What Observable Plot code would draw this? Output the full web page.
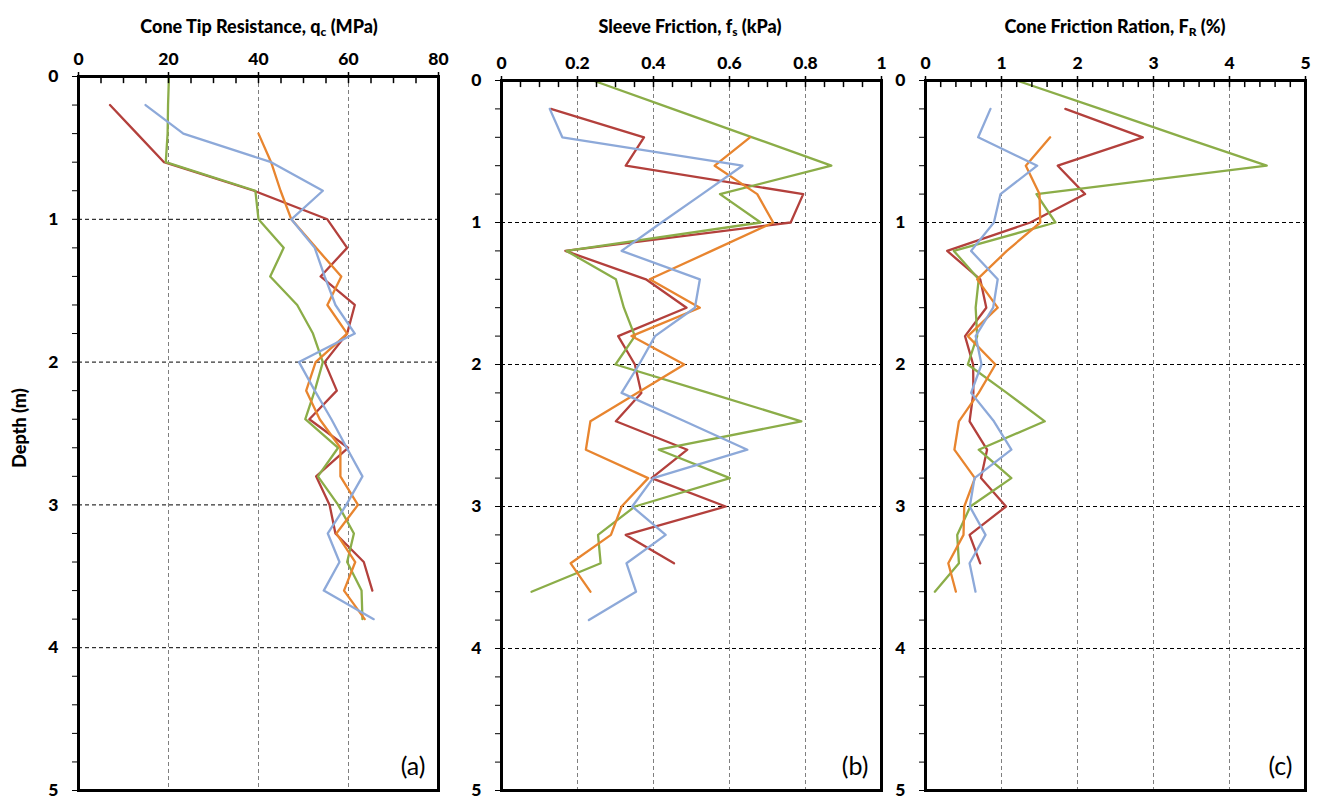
<!DOCTYPE html>
<html>
<head>
<meta charset="utf-8">
<script src="https://cdn.jsdelivr.net/npm/d3@7"></script>
<script src="https://cdn.jsdelivr.net/npm/@observablehq/plot@0.6"></script>
<style>
  body { margin: 0; background: #fff; }
  #root { position: relative; width: 1319px; height: 797px; overflow: hidden; background: #fff; font-family: Lato, "Open Sans", sans-serif; }
  .title { position: absolute; top: 15px; font-weight: 900; font-size: 18px; white-space: nowrap; transform: translateX(-50%); color: #000; }
  .title sub { font-size: 12px; vertical-align: -3px; }
  .ylab { position: absolute; left: 19px; top: 428px; font-weight: 900; font-size: 18px; white-space: nowrap; transform: translate(-50%, -50%) rotate(-90deg); }
  .panel { position: absolute; top: 0; }
</style>
</head>
<body>
<div id="root">
  <div class="title" style="left:259px">Cone Tip Resistance, q<sub>c</sub> (MPa)</div>
  <div class="title" style="left:690px">Sleeve Friction, f<sub>s</sub> (kPa)</div>
  <div class="title" style="left:1115px">Cone Friction Ration, F<sub>R</sub> (%)</div>
  <div class="ylab">Depth (m)</div>
  <div id="pa" class="panel" style="left:0px"></div>
  <div id="pb" class="panel" style="left:450px"></div>
  <div id="pc" class="panel" style="left:893px"></div>
</div>
<script>
// ---------- data ----------
const depthTicks = [0, 0.2, 0.4, 0.6, 0.8, 1, 1.2, 1.4, 1.6, 1.8, 2, 2.2, 2.4, 2.6, 2.8, 3, 3.2, 3.4, 3.6, 3.8, 4, 4.2, 4.4, 4.6, 4.8, 5];
const depthGrid = [1, 2, 3, 4];

const depthFrom0 = [0, 0.2, 0.4, 0.6, 0.8, 1, 1.2, 1.4, 1.6, 1.8, 2, 2.2, 2.4, 2.6, 2.8, 3, 3.2, 3.4, 3.6, 3.8];
const depthFrom02 = depthFrom0.slice(1);
const depthFrom04 = depthFrom0.slice(2);

// (a) cone tip resistance qc (MPa)
const qcRed    = [7.0, 13.0, 19.0, 39.0, 55.3, 59.7, 53.8, 61.4, 59.7, 54.7, 57.4, 51.3, 59.9, 52.8, 55.8, 57.1, 63.4, 65.3];            // 0.2 .. 3.6
const qcGreen  = [20.1, 19.9, 19.8, 19.4, 39.3, 40.0, 45.6, 42.6, 48.6, 52.1, 54.3, 52.5, 50.4, 57.7, 53.2, 57.7, 61.2, 59.7, 62.9, 63.1]; // 0 .. 3.8
const qcOrange = [40.0, 42.8, 44.9, 47.3, 52.8, 58.4, 55.3, 59.7, 52.7, 50.6, 53.6, 58.2, 58.2, 62.1, 57.3, 61.5, 59.0, 63.6];           // 0.4 .. 3.8
const qcBlue   = [14.9, 23.3, 42.8, 54.3, 47.3, 52.5, 54.7, 57.1, 61.4, 49.0, 52.5, 56.2, 59.6, 63.1, 59.5, 55.4, 58.0, 54.5, 65.6];     // 0.2 .. 3.8

// (b) sleeve friction fs (kPa)
const fsRed    = [0.130, 0.375, 0.327, 0.794, 0.761, 0.168, 0.380, 0.487, 0.307, 0.351, 0.368, 0.301, 0.489, 0.395, 0.590, 0.327, 0.454];                 // 0.2 .. 3.4
const fsGreen  = [0.241, 0.450, 0.660, 0.868, 0.575, 0.682, 0.171, 0.301, 0.322, 0.351, 0.300, 0.545, 0.789, 0.414, 0.601, 0.351, 0.254, 0.261, 0.079]; // 0 .. 3.6
const fsOrange = [0.654, 0.561, 0.673, 0.715, 0.553, 0.390, 0.522, 0.342, 0.481, 0.357, 0.234, 0.222, 0.386, 0.316, 0.288, 0.182, 0.234];                 // 0.4 .. 3.6
const fsBlue   = [0.127, 0.160, 0.634, 0.528, 0.421, 0.316, 0.522, 0.509, 0.404, 0.362, 0.316, 0.482, 0.647, 0.399, 0.344, 0.432, 0.329, 0.354, 0.230]; // 0.2 .. 3.8

// (c) cone friction ratio FR (%)
const frRed    = [1.84, 2.86, 1.74, 2.10, 1.38, 0.285, 0.72, 0.80, 0.52, 0.627, 0.63, 0.58, 0.81, 0.73, 1.06, 0.58, 0.72];                  // 0.2 .. 3.4
const frGreen  = [1.20, 2.30, 3.39, 4.49, 1.46, 1.71, 0.373, 0.70, 0.66, 0.68, 0.557, 1.07, 1.57, 0.70, 1.13, 0.59, 0.417, 0.44, 0.123]; // 0 .. 3.6
const frOrange = [1.64, 1.32, 1.50, 1.51, 1.07, 0.68, 0.95, 0.557, 0.92, 0.70, 0.44, 0.38, 0.65, 0.51, 0.50, 0.30, 0.40];                 // 0.4 .. 3.6
const frBlue   = [0.855, 0.693, 1.47, 0.987, 0.90, 0.60, 0.95, 0.89, 0.66, 0.737, 0.60, 0.90, 1.13, 0.645, 0.583, 0.79, 0.58, 0.658];   // 0.2 .. 3.6

const qcMajor = [0, 20, 40, 60, 80];
const qcMinor = [5, 10, 15, 25, 30, 35, 45, 50, 55, 65, 70, 75];
const fsMajor = [0, 0.2, 0.4, 0.6, 0.8, 1];
const fsMinor = [0.05, 0.1, 0.15, 0.25, 0.3, 0.35, 0.45, 0.5, 0.55, 0.65, 0.7, 0.75, 0.85, 0.9, 0.95];
const frMajor = [0, 1, 2, 3, 4, 5];
const frMinor = [0.2, 0.4, 0.6, 0.8, 1.2, 1.4, 1.6, 1.8, 2.2, 2.4, 2.6, 2.8, 3.2, 3.4, 3.6, 3.8, 4.2, 4.4, 4.6, 4.8];

const colors = { red: "#B3403C", green: "#8BAD48", orange: "#E8852F", blue: "#8DA9D9" };

function pairs(vals, depths) { return vals.map((v, i) => ({ v, d: depths[i] })); }

function panel({ el, width, marginLeft, marginRight, marginTop, domain, major, minor, fmt, series, tag }) {
  const lineMarks = series.map(s => Plot.line(pairs(s.vals, s.depths), { x: "v", y: "d", stroke: s.color, strokeWidth: 2.3 }));
  const inner = major.slice(1, -1);
  const chart = Plot.plot({
    width, height: 797, marginTop, marginBottom: 7, marginLeft, marginRight,
    style: { fontFamily: "Lato, 'Open Sans', sans-serif", background: "transparent", overflow: "visible" },
    x: { domain, axis: null },
    y: { domain: [0, 5], reverse: true, axis: null },
    marks: [
      Plot.ruleX(inner, { stroke: "#7f7f7f", strokeWidth: 1, strokeDasharray: "4,3" }),
      Plot.ruleY(depthGrid, { stroke: "#000", strokeWidth: 1, strokeDasharray: "4,3" }),
      ...lineMarks,
      Plot.frame({ stroke: "#000", strokeWidth: 3 }),
      Plot.axisX({ anchor: "top", ticks: major, tickSize: 5, tickPadding: 7, tickFormat: fmt, fontSize: 17.5, fontWeight: 900, label: null, strokeWidth: 1.5 }),
      Plot.ruleX(major.concat(minor), { y1: 0, y2: 0.05, stroke: "#000", strokeWidth: 1.5 }),
      Plot.axisY({ anchor: "left", ticks: depthTicks, tickSize: 6, tickPadding: 14, tickFormat: d => Number.isInteger(d) ? String(d) : "", fontSize: 17.5, fontWeight: 900, label: null, strokeWidth: 1 }),
      Plot.text([tag], { frameAnchor: "bottom-right", dx: -13, dy: -16, fontSize: 25, fill: "#000" })
    ]
  });
  document.getElementById(el).appendChild(chart);
}

const sOrder = (red, green, orange, blue, dRed, dGreen, dOrange, dBlue) => [
  { vals: red, depths: dRed, color: colors.red },
  { vals: green, depths: dGreen, color: colors.green },
  { vals: orange, depths: dOrange, color: colors.orange },
  { vals: blue, depths: dBlue, color: colors.blue }
];

panel({ el: "pa", width: 450, marginLeft: 78, marginRight: 12, marginTop: 76, domain: [0, 80], major: qcMajor, minor: qcMinor, fmt: d => String(d),
  series: sOrder(qcRed, qcGreen, qcOrange, qcBlue, depthFrom02, depthFrom0, depthFrom04, depthFrom02), tag: "(a)" });
panel({ el: "pb", width: 443, marginLeft: 51, marginRight: 12, marginTop: 80, domain: [0, 1], major: fsMajor, minor: fsMinor, fmt: d => String(d),
  series: sOrder(fsRed, fsGreen, fsOrange, fsBlue, depthFrom02, depthFrom0, depthFrom04, depthFrom02), tag: "(b)" });
panel({ el: "pc", width: 426, marginLeft: 32, marginRight: 14, marginTop: 80, domain: [0, 5], major: frMajor, minor: frMinor, fmt: d => String(d),
  series: sOrder(frRed, frGreen, frOrange, frBlue, depthFrom02, depthFrom0, depthFrom04, depthFrom02), tag: "(c)" });
</script>
</body>
</html>
